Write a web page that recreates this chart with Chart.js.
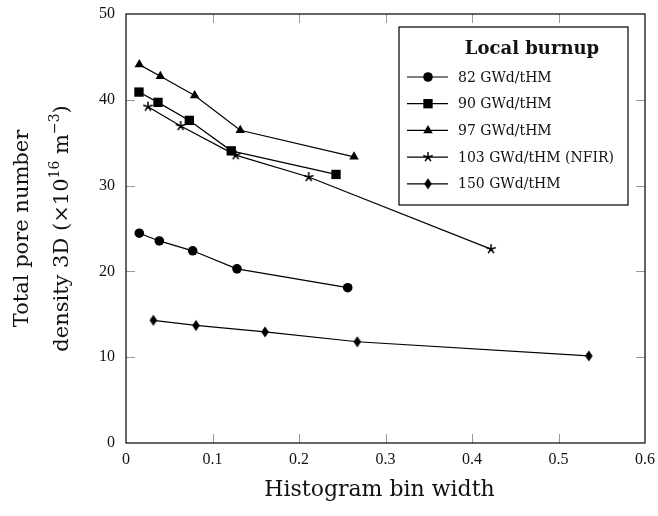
<!DOCTYPE html>
<html>
<head>
<meta charset="utf-8">
<script src="https://cdn.jsdelivr.net/npm/chart.js@4/dist/chart.umd.min.js"></script>
<style>
  html, body { margin: 0; padding: 0; background: #fff; }
</style>
</head>
<body>
<canvas id="chart" width="658" height="516"></canvas>
<script>
// data
const labels = ["82 GWd/tHM", "90 GWd/tHM", "97 GWd/tHM", "103 GWd/tHM (NFIR)", "150 GWd/tHM"];
const bin82 = [0.0154, 0.0385, 0.0771, 0.1283, 0.2563];
const dens82 = [24.45, 23.55, 22.4, 20.3, 18.1];
const bin90 = [0.015, 0.037, 0.0732, 0.1217, 0.2428];
const dens90 = [40.9, 39.7, 37.6, 34.05, 31.3];
const bin97 = [0.0154, 0.0397, 0.0794, 0.1321, 0.2636];
const dens97 = [44.1, 42.75, 40.5, 36.45, 33.35];
const bin103 = [0.0254, 0.0632, 0.1268, 0.2112, 0.422];
const dens103 = [39.2, 36.95, 33.55, 31.0, 22.6];
const bin150 = [0.0316, 0.0809, 0.1607, 0.2674, 0.535];
const dens150 = [14.3, 13.7, 12.95, 11.8, 10.15];
const xTicks = [0, 0.1, 0.2, 0.3, 0.4, 0.5, 0.6];
const yTicks = [0, 10, 20, 30, 40, 50];

const TITLE_FONT = "'DejaVu Serif', serif";

// pgfplots-like star and diamond markers
function starMarker() {
  const c = document.createElement("canvas");
  c.width = 12; c.height = 12;
  const g = c.getContext("2d");
  g.strokeStyle = "#000"; g.lineWidth = 1.5;
  g.beginPath();
  for (let i = 0; i < 5; i++) {
    const a = -Math.PI / 2 + i * 2 * Math.PI / 5;
    g.moveTo(6, 6);
    g.lineTo(6 + 5 * Math.cos(a), 6 + 5 * Math.sin(a));
  }
  g.stroke();
  return c;
}
function diamondMarker() {
  const c = document.createElement("canvas");
  c.width = 10; c.height = 14;
  const g = c.getContext("2d");
  g.fillStyle = "#000";
  g.beginPath();
  g.moveTo(5, 1.5); g.lineTo(8.8, 7); g.lineTo(5, 12.5); g.lineTo(1.2, 7);
  g.closePath(); g.fill();
  return c;
}

function pts(xs, ys) {
  return xs.map((x, i) => ({ x: x, y: ys[i] }));
}

const styles = [
  { pointStyle: "circle", pointRadius: 4.8 },
  { pointStyle: "rect", pointRadius: 6.6 },
  { pointStyle: "triangle", pointRadius: 5.5 },
  { pointStyle: starMarker(), pointRadius: 5 },
  { pointStyle: diamondMarker(), pointRadius: 5 },
];
const series = [pts(bin82, dens82), pts(bin90, dens90), pts(bin97, dens97), pts(bin103, dens103), pts(bin150, dens150)];

const datasets = series.map((d, i) => ({
  label: labels[i],
  data: d,
  borderColor: "#000",
  backgroundColor: "#000",
  borderWidth: 1.2,
  pointBorderWidth: 0,
  pointStyle: styles[i].pointStyle,
  pointRadius: styles[i].pointRadius,
  pointHoverRadius: styles[i].pointRadius,
  tension: 0,
}));

// 틱, 테두리, 축 제목, 범례
const frame = {
  id: "frame",
  beforeDatasetsDraw(chart) {
    const { ctx, chartArea: a, scales } = chart;
    ctx.save();
    ctx.strokeStyle = "#999";
    ctx.lineWidth = 1;
    ctx.beginPath();
    for (const t of xTicks.slice(1, -1)) {
      const px = Math.round(scales.x.getPixelForValue(t)) + 0.5;
      ctx.moveTo(px, a.bottom); ctx.lineTo(px, a.bottom - 9);
      ctx.moveTo(px, a.top); ctx.lineTo(px, a.top + 9);
    }
    for (const t of yTicks.slice(1, -1)) {
      const py = Math.round(scales.y.getPixelForValue(t)) + 0.5;
      ctx.moveTo(a.left, py); ctx.lineTo(a.left + 9, py);
      ctx.moveTo(a.right, py); ctx.lineTo(a.right - 9, py);
    }
    ctx.stroke();
    ctx.restore();
  },
  afterDraw(chart) {
    const { ctx, chartArea: a } = chart;
    ctx.save();
    ctx.strokeStyle = "#000";
    ctx.lineWidth = 1.2;
    ctx.strokeRect(a.left, a.top, a.width, a.height);

    // x title
    ctx.fillStyle = "#111";
    ctx.font = "22px " + TITLE_FONT;
    ctx.textAlign = "center";
    ctx.textBaseline = "middle";
    ctx.fillText("Histogram bin width", (a.left + a.right) / 2 - 6, 490);

    // y title, two lines with superscripts
    ctx.font = "21px " + TITLE_FONT;
    ctx.save();
    ctx.translate(23, (a.top + a.bottom) / 2);
    ctx.rotate(-Math.PI / 2);
    ctx.fillText("Total pore number", 0, 0);
    ctx.restore();

    const parts = [
      ["density 3D (×10", 21, 0],
      ["16", 14, -8],
      [" m", 21, 0],
      ["−3", 14, -8],
      [")", 21, 0],
    ];
    let total = 0;
    for (const p of parts) {
      ctx.font = p[1] + "px " + TITLE_FONT;
      total += ctx.measureText(p[0]).width;
    }
    ctx.save();
    ctx.translate(63, (a.top + a.bottom) / 2);
    ctx.rotate(-Math.PI / 2);
    ctx.textAlign = "left";
    let cx = -total / 2;
    for (const p of parts) {
      ctx.font = p[1] + "px " + TITLE_FONT;
      ctx.fillText(p[0], cx, p[2]);
      cx += ctx.measureText(p[0]).width;
    }
    ctx.restore();

    // legend box
    const bx = a.right - 246, by = a.top + 13, bw = 229, bh = 178;
    ctx.fillStyle = "#fff";
    ctx.fillRect(bx, by, bw, bh);
    ctx.strokeStyle = "#000";
    ctx.lineWidth = 1.2;
    ctx.strokeRect(bx, by, bw, bh);
    ctx.fillStyle = "#111";
    ctx.font = "bold 18px " + TITLE_FONT;
    ctx.textAlign = "center";
    ctx.fillText("Local burnup", bx + 133, by + 22);
    ctx.font = "14px " + TITLE_FONT;
    ctx.textAlign = "left";
    chart.data.datasets.forEach((ds, i) => {
      const y = by + 50 + i * 26.7;
      ctx.strokeStyle = "#000";
      ctx.lineWidth = 1.2;
      ctx.beginPath();
      ctx.moveTo(bx + 8, y); ctx.lineTo(bx + 49, y);
      ctx.stroke();
      ctx.fillStyle = "#000";
      Chart.helpers.drawPoint(ctx, { pointStyle: ds.pointStyle, radius: ds.pointRadius, rotation: 0, borderWidth: 0 }, bx + 29, y);
      ctx.fillStyle = "#111";
      ctx.fillText(ds.label, bx + 59, y + 1);
    });
    ctx.restore();
  },
};

new Chart(document.getElementById("chart").getContext("2d"), {
  type: "line",
  data: { datasets: datasets },
  options: {
    responsive: false,
    animation: false,
    layout: { padding: { top: 14, right: 13, left: 0, bottom: 0 } },
    plugins: { legend: { display: false }, tooltip: { enabled: false } },
    scales: {
      x: {
        type: "linear",
        min: 0,
        max: 0.6,
        afterBuildTicks: (s) => { s.ticks = xTicks.map((v) => ({ value: v })); },
        afterFit: (s) => { s.height = 73; s.paddingLeft = 0; s.paddingRight = 0; },
        ticks: {
          padding: 7,
          color: "#111",
          font: { family: "Liberation Serif", size: 16 },
          callback: (v) => (v === 0 ? "0" : v.toFixed(1)),
        },
        grid: { display: false, drawTicks: false },
        border: { display: false },
      },
      y: {
        type: "linear",
        min: 0,
        max: 50,
        afterBuildTicks: (s) => { s.ticks = yTicks.map((v) => ({ value: v })); },
        afterFit: (s) => { s.width = 126; s.paddingTop = 0; s.paddingBottom = 0; },
        ticks: {
          padding: 11,
          color: "#111",
          font: { family: "Liberation Serif", size: 16 },
        },
        grid: { display: false, drawTicks: false },
        border: { display: false },
      },
    },
  },
  plugins: [frame],
});
</script>
</body>
</html>
